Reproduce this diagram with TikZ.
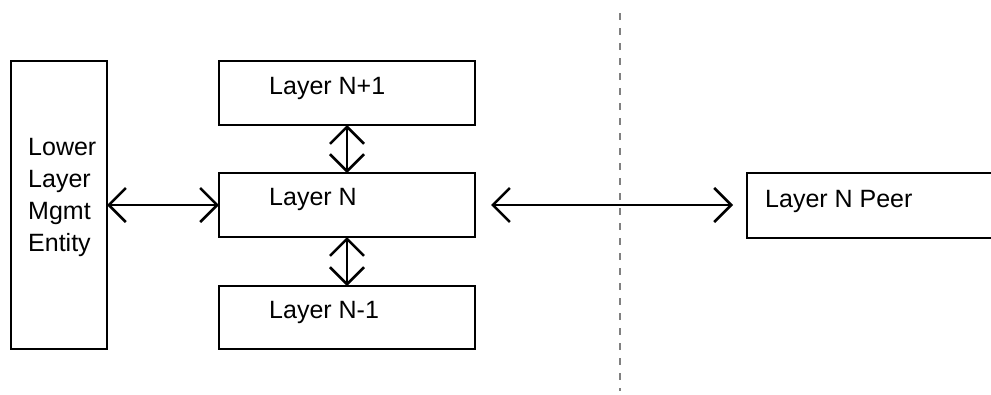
\documentclass[tikz,border=0pt]{standalone}
\usepackage{fontspec}
\setmainfont{Liberation Sans}
\usetikzlibrary{arrows.meta}
\tikzset{
  box/.style={draw=black, line width=2.5pt, rectangle, inner sep=0pt, outer sep=0pt},
  lbl/.style={anchor=base west, inner sep=0pt, font=\fontsize{25}{32}\selectfont},
  link/.style={line width=2.5pt, {Straight Barb[length=17pt,width=34pt]}-{Straight Barb[length=17pt,width=34pt]}},
  divider/.style={draw={rgb,255:red,128;green,128;blue,128}, line width=1.5pt, dash pattern=on 7pt off 8pt}
}
\begin{document}
\begin{tikzpicture}[x=1pt,y=-1pt]
\useasboundingbox (0,0) rectangle (991,394);
\clip (0,0) rectangle (991,394);
% divider
\coordinate (dtop) at (620,13);
\coordinate (dbot) at (620,391);
\draw[divider] (dtop) -- (dbot);
% boxes
\node[box, minimum width=96pt, minimum height=288pt] (lme) at (59,205) {};
\node[box, minimum width=256pt, minimum height=64pt] (np1) at (347,93) {};
\node[box, minimum width=256pt, minimum height=64pt] (n) at (347,205) {};
\node[box, minimum width=256pt, minimum height=63pt] (nm1) at (347,317.5) {};
\node[box, minimum width=263pt, minimum height=65pt] (peer) at (878.5,205.5) {};
% labels
\node[lbl, align=left, anchor=north west] (lmet) at (28,138) {Lower\\Layer\\Mgmt\\Entity};
\node[lbl] (np1t) at (269,94) {Layer N+1};
\node[lbl] (nt) at (269,205.5) {Layer N};
\node[lbl] (nm1t) at (269,318) {Layer N-1};
\node[lbl] (peert) at (765,207) {Layer N Peer};
% connectors
\draw[link] (lme.east) -- (n.west);
\draw[link] (np1.south) -- (n.north);
\draw[link] (n.south) -- (nm1.north);
\draw[link, shorten <=16pt, shorten >=14pt] (n.east) -- (peer.west |- n.east);
\end{tikzpicture}
\end{document}
